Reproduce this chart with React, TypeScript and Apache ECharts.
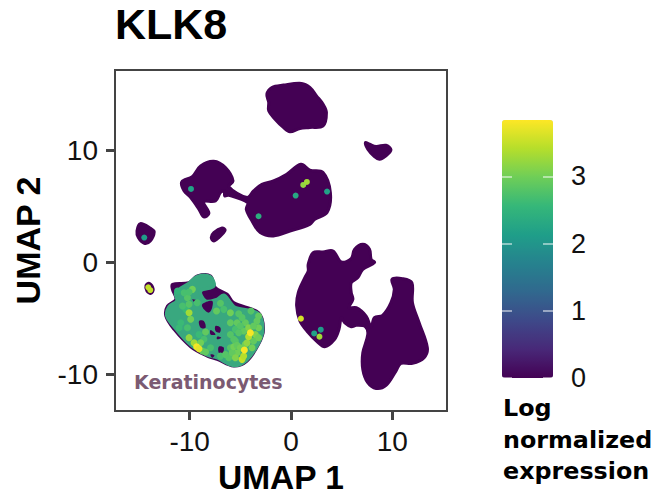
import React, { useEffect, useRef } from "react";
import * as echarts from "echarts";

const titleText = "KLK8";
const xAxisName = "UMAP 1";
const yAxisName = "UMAP 2";
const xTicks = [-10, 0, 10];
const yTicks = [-10, 0, 10];
const colorTicks = [0, 1, 2, 3];
const clusterLabel = "Keratinocytes";
const legendTitleLines = ["Log", "normalized", "expression"];

const topBlob = [[-2.38,15.04],[-1.89,15.64],[-0.75,15.85],[1.05,16.0],[1.86,15.64],[2.52,14.89],[3.17,14.14],[3.5,13.4],[3.17,12.2],[1.86,12.06],[0.88,11.97],[-0.1,11.67],[-0.75,12.06],[-1.57,12.8],[-2.2,13.55],[-2.2,14.3]];
const upperRightBlob = [[7.35,10.71],[7.75,10.56],[8.4,10.36],[9.38,10.47],[9.87,10.06],[9.38,9.52],[8.73,9.22],[8.24,9.46],[7.58,10.12]];
const middleBlob = [[-10.78,7.19],[-9.74,7.67],[-8.92,8.62],[-7.62,9.04],[-6.47,8.47],[-5.72,7.28],[-6.14,6.77],[-4.34,5.79],[-3.69,6.39],[-2.87,6.98],[-1.73,7.28],[-0.42,7.88],[0.98,8.77],[1.86,8.24],[3.17,8.03],[3.89,6.24],[3.56,4.45],[2.35,3.85],[1.86,3.4],[-0.1,2.8],[-1.73,2.36],[-3.04,2.66],[-3.85,3.7],[-4.41,4.74],[-4.28,5.34],[-6.14,6.0],[-6.54,5.94],[-6.57,6.39],[-6.96,6.24],[-7.45,5.49],[-8.6,5.4],[-8.1,4.39],[-8.6,4.06],[-9.08,4.74],[-9.9,5.79],[-10.56,6.39]];
const smallLeftBlob = [[-14.87,3.46],[-13.82,3.01],[-13.5,2.72],[-13.89,1.91],[-14.48,1.7],[-15.07,2.21],[-15.2,2.8]];
const capsuleBlob = [[-6.8,3.07],[-6.5,2.86],[-7.13,2.21],[-7.62,1.91],[-7.87,2.21],[-7.62,2.66]];
const tinyOvalBlob = [[-14.31,-2.06],[-13.99,-1.88],[-13.6,-2.42],[-13.82,-2.78],[-14.22,-2.57]];
const rightBlob = [[1.7,-0.18],[2.19,0.87],[3.17,0.92],[4.15,1.01],[4.97,0.03],[5.95,0.33],[6.27,1.16],[7.09,1.61],[7.75,1.16],[7.91,0.27],[8.24,-0.03],[7.09,-0.63],[6.6,-1.37],[5.95,-1.82],[5.95,-2.71],[6.11,-3.31],[5.72,-4.06],[6.44,-4.06],[7.42,-4.81],[7.91,-5.76],[8.24,-4.95],[9.05,-4.74],[9.87,-3.61],[10.2,-2.42],[9.97,-1.52],[11.01,-1.46],[11.93,-1.82],[11.99,-3.61],[12.65,-5.4],[13.46,-7.64],[13.14,-8.53],[11.99,-9.04],[10.85,-9.04],[10.36,-9.73],[9.38,-11.01],[8.4,-11.28],[7.58,-10.77],[7.09,-9.58],[7.09,-8.09],[7.58,-6.45],[7.35,-5.76],[6.44,-5.64],[5.95,-5.76],[5.29,-5.4],[4.97,-4.95],[4.74,-6.0],[4.31,-6.89],[3.33,-7.55],[2.52,-7.05],[1.7,-6.29],[0.88,-5.25],[0.56,-3.91],[0.72,-2.71],[1.37,-1.37],[1.7,-0.78]];
const keratinocyteBlob = [[-11.7,-1.97],[-10.07,-1.82],[-9.25,-1.22],[-7.94,-1.22],[-7.45,-2.27],[-6.3,-2.86],[-5.66,-3.61],[-3.2,-4.5],[-2.71,-6.0],[-3.2,-7.34],[-4.34,-8.83],[-5.66,-9.28],[-7.29,-8.68],[-8.26,-8.39],[-9.9,-7.55],[-11.54,-6.0],[-12.35,-4.81],[-12.19,-3.91],[-11.37,-3.31],[-11.7,-2.42]];

const expressedRegion = [[-11.37,-2.71],[-10.07,-1.88],[-9.25,-1.28],[-8.0,-1.28],[-7.62,-2.12],[-8.92,-2.57],[-8.43,-3.46],[-7.29,-3.31],[-6.63,-2.95],[-5.98,-3.61],[-5.49,-4.06],[-3.27,-4.57],[-2.78,-6.0],[-3.27,-7.34],[-4.41,-8.77],[-5.66,-9.22],[-7.29,-8.53],[-8.2,-8.3],[-9.83,-7.43],[-11.37,-5.94],[-12.25,-4.81],[-12.03,-3.97],[-11.27,-3.46]];

const holeA = [[-8.76,-3.76],[-7.78,-3.46],[-7.78,-4.06],[-8.1,-4.5],[-8.6,-4.21]];
const holeB = [[-9.08,-5.25],[-8.6,-5.25],[-8.43,-5.85],[-8.92,-5.85]];
const holeC = [[-7.45,-5.7],[-6.96,-5.85],[-7.03,-6.29],[-7.45,-6.15]];
const holeD = [[-7.94,-6.06],[-7.45,-6.45],[-7.94,-6.45]];
const holeE = [[-7.29,-6.65],[-6.89,-6.74],[-7.29,-6.89]];
const holeF = [[-9.74,-3.31],[-9.18,-3.46],[-9.41,-3.67]];
const holeG = [[-7.13,-7.55],[-6.63,-7.64],[-6.8,-8.24],[-7.13,-8.08]];
const holeH = [[-7.94,-8.24],[-7.55,-8.33],[-7.78,-8.53]];

const outlierCells = [[-9.87,6.56,2.2],[-3.2,4.12,2.4],[0.46,5.97,2.3],[3.56,6.33,2.2],[1.21,6.92,3.2],[1.57,7.19,3.3],[-14.48,2.21,2.1],[-14.09,-2.24,3.5],[-13.89,-2.48,3.5],[0.98,-5.04,3.6],[2.29,-6.36,2.2],[2.94,-6.03,2.1],[2.81,-6.65,3.3]];
const keratinocyteCells = [[-5.65,-6.89,2.8],[-5.32,-8.09,3.0],[-5.98,-7.64,2.8],[-5.49,-7.04,2.8],[-4.5,-7.34,3.0],[-3.69,-7.04,2.9],[-3.52,-6.45,3.1],[-4.67,-6.15,2.9],[-5.49,-6.0,2.7],[-6.63,-4.21,2.7],[-9.08,-6.45,2.6],[-8.59,-6.89,2.7],[-10.22,-3.16,2.8],[-9.73,-2.42,3.0],[-10.55,-2.72,2.7],[-10.88,-5.4,2.6],[-10.39,-4.21,2.6],[-6.96,-8.39,2.7],[-6.14,-8.53,2.8],[-5.81,-8.09,2.9],[-8.75,-7.94,2.9],[-7.94,-7.64,2.7],[-5.16,-6.3,2.8],[-4.5,-5.4,2.9],[-3.36,-5.25,2.9],[-10.06,-4.51,3.3],[-9.9,-5.1,3.0],[-10.22,-5.85,2.7],[-11.04,-5.85,2.6],[-10.06,-3.76,2.8],[-10.06,-2.66,2.7],[-11.2,-2.57,2.5],[-9.57,-7.19,3.3],[-10.06,-6.74,3.2],[-8.92,-7.19,3.0],[-8.43,-8.03,2.9],[-5.98,-4.51,3.0],[-7.35,-4.36,2.9],[-6.96,-3.67,2.8],[-5.16,-4.6,2.8],[-3.95,-4.36,2.8],[-3.2,-4.8,2.9],[-3.2,-5.85,3.0],[-4.18,-5.85,3.1],[-4.34,-7.19,3.2],[-5.49,-8.53,3.1],[-5.65,-7.55,3.0],[-5.32,-7.43,2.9],[-5.0,-7.64,3.0],[-3.85,-7.64,3.0],[-5.98,-5.4,2.9],[-5.32,-5.4,2.9],[-4.83,-4.95,2.8],[-3.2,-6.74,3.0],[-5.98,-6.45,2.8],[-8.43,-6.24,2.9],[-9.25,-3.61,2.7],[-10.71,-3.91,2.7],[-6.47,-8.24,2.8],[-5.0,-5.7,2.8],[-3.69,-5.7,2.9],[-4.18,-6.65,3.4],[-4.83,-8.68,3.5],[-4.67,-8.39,3.4],[-9.31,-7.55,3.8],[-9.08,-7.73,3.7],[-4.01,-6.3,3.8],[-4.6,-7.85,3.8]];

const viridis = ["#440154","#482878","#3e4989","#31688e","#26828e","#1f9e89","#35b779","#6ece58","#b5de2b","#fde725"];

function polygonSeries(polygons: number[][][], color: string, lineWidth: number, smooth: number) {
  return {
    type: "custom",
    xAxisIndex: 0,
    yAxisIndex: 0,
    silent: true,
    clip: true,
    data: polygons.map((_, i) => [i]),
    renderItem: (params: any, api: any) => ({
      type: "polygon",
      shape: { points: polygons[params.dataIndex].map((p) => api.coord(p)), smooth },
      style: { fill: color, stroke: color, lineWidth, lineJoin: "round" },
    }),
  };
}

export default function App() {
  const ref = useRef<HTMLDivElement>(null);
  useEffect(() => {
    document.body.style.margin = "0";
    const chart = echarts.init(ref.current!, null, { renderer: "svg" });
    const font = "'Liberation Sans', Arial, sans-serif";
    const wideFont = "'DejaVu Sans', sans-serif";
    chart.setOption({
      animation: false,
      backgroundColor: "#ffffff",
      title: {
        text: titleText,
        left: 115,
        top: 2,
        padding: 0,
        textStyle: { fontFamily: font, fontWeight: "bold", fontSize: 43, color: "#000" },
      },
      grid: [
        { left: 115, top: 70, width: 332, height: 341, outerBoundsMode: "none", show: true, borderColor: "#444", borderWidth: 2, backgroundColor: "#fff" },
        { left: 502, top: 120, width: 51, height: 258, outerBoundsMode: "none", show: false },
      ],
      xAxis: [
        {
          type: "value",
          gridIndex: 0,
          min: -17.37,
          max: 15.4,
          name: xAxisName,
          nameLocation: "middle",
          nameGap: 49,
          nameTextStyle: { fontFamily: font, fontWeight: "bold", fontSize: 33.5, color: "#000" },
          splitLine: { show: false },
          axisLine: { show: false, onZero: false },
          axisTick: { show: true, length: 9, lineStyle: { color: "#444", width: 3 }, customValues: xTicks },
          axisLabel: { fontFamily: font, fontSize: 28, color: "#111", margin: 16, customValues: xTicks, formatter: (v: number) => String(v) },
        },
        { type: "value", gridIndex: 1, min: 0, max: 1, show: false },
      ],
      yAxis: [
        {
          type: "value",
          gridIndex: 0,
          min: -13.3,
          max: 17.2,
          name: yAxisName,
          nameLocation: "middle",
          nameGap: 70,
          nameRotate: 90,
          nameTextStyle: { fontFamily: font, fontWeight: "bold", fontSize: 34, color: "#000" },
          splitLine: { show: false },
          axisLine: { show: false, onZero: false },
          axisTick: { show: true, length: 9, lineStyle: { color: "#444", width: 3 }, customValues: yTicks },
          axisLabel: { fontFamily: font, fontSize: 28, color: "#111", margin: 17, customValues: yTicks, formatter: (v: number) => String(v) },
        },
        {
          type: "value",
          gridIndex: 1,
          min: 0,
          max: 3.84,
          position: "right",
          z: 10,
          splitLine: { show: false },
          axisLine: { show: false, onZero: false },
          axisTick: { show: true, inside: true, length: 10, lineStyle: { color: "rgba(255,255,255,0.65)", width: 1.5 }, customValues: colorTicks },
          axisLabel: { fontFamily: font, fontSize: 27, color: "#111", margin: 18, customValues: colorTicks, formatter: (v: number) => String(v) },
        },
        {
          type: "value",
          gridIndex: 1,
          min: 0,
          max: 3.84,
          position: "left",
          z: 10,
          splitLine: { show: false },
          axisLine: { show: false, onZero: false },
          axisLabel: { show: false },
          axisTick: { show: true, inside: true, length: 10, lineStyle: { color: "rgba(255,255,255,0.65)", width: 1.5 }, customValues: colorTicks },
        },
      ],
      visualMap: {
        type: "continuous",
        seriesIndex: [3, 4],
        dimension: 2,
        min: 0,
        max: 3.84,
        left: 502,
        top: 120,
        padding: 0,
        itemWidth: 51,
        itemHeight: 258,
        calculable: false,
        realtime: false,
        text: ["", ""],
        textGap: 0,
        inRange: { color: viridis },
      },
      series: [
        polygonSeries([topBlob, upperRightBlob, middleBlob, smallLeftBlob, capsuleBlob, tinyOvalBlob, rightBlob, keratinocyteBlob], "#440154", 3, 0.35),
        polygonSeries([expressedRegion], "#39a87f", 3.5, 0.35),
        polygonSeries([holeA, holeB, holeC, holeD, holeE, holeF, holeG, holeH], "#440154", 0, 0.35),
        { type: "scatter", xAxisIndex: 0, yAxisIndex: 0, symbolSize: 7, silent: true, itemStyle: { opacity: 1 }, data: keratinocyteCells },
        { type: "scatter", xAxisIndex: 0, yAxisIndex: 0, symbolSize: 6, silent: true, itemStyle: { opacity: 1 }, data: outlierCells },
      ],
      graphic: [
        { type: "text", x: 134, y: 372, style: { text: clusterLabel, fontFamily: wideFont, fontWeight: "bold", fontSize: 19, fill: "#7b5a72" } },
        { type: "text", x: 503, y: 396, style: { text: legendTitleLines[0], fontFamily: wideFont, fontWeight: "bold", fontSize: 23.8, fill: "#000" } },
        { type: "text", x: 503, y: 428, style: { text: legendTitleLines[1], fontFamily: wideFont, fontWeight: "bold", fontSize: 23.8, fill: "#000" } },
        { type: "text", x: 503, y: 459, style: { text: legendTitleLines[2], fontFamily: wideFont, fontWeight: "bold", fontSize: 23.8, fill: "#000" } },
      ],
    });
    return () => chart.dispose();
  }, []);
  return <div ref={ref} style={{ position: "absolute", left: 0, top: 0, width: 654, height: 494 }} />;
}
